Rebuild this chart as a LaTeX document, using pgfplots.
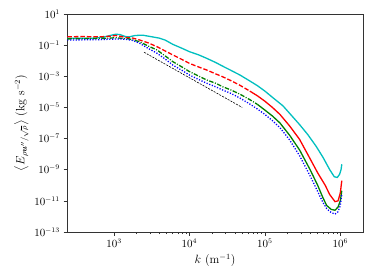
\documentclass[border=0pt]{standalone}
\usepackage{amsmath}
\usepackage{pgfplots}
\pgfplotsset{compat=1.18}
\usepackage{pgfplotstable}
\definecolor{mplc}{rgb}{0,0.75,0.75}
\definecolor{mplr}{rgb}{1,0,0}
\definecolor{mplg}{rgb}{0,0.5,0}
\definecolor{mplb}{rgb}{0,0,1}

\pgfplotstableread{
lk lE
2.38 -0.56
2.5 -0.55
2.7 -0.56
2.85 -0.5
2.95 -0.38
3.02 -0.30
3.08 -0.32
3.15 -0.45
3.20 -0.47
3.28 -0.38
3.38 -0.36
3.45 -0.42
3.52 -0.48
3.60 -0.55
3.68 -0.68
3.78 -0.95
3.90 -1.20
4.00 -1.42
4.12 -1.62
4.23 -1.85
4.35 -2.12
4.44 -2.35
4.55 -2.62
4.67 -2.92
4.80 -3.30
4.90 -3.60
5.00 -3.95
5.10 -4.35
5.24 -4.90
5.35 -5.50
5.46 -6.10
5.57 -6.75
5.68 -7.50
5.77 -8.20
5.86 -9.00
5.92 -9.45
5.96 -9.50
5.99 -9.30
6.01 -9.00
6.02 -8.65
}\cdata

\pgfplotstableread{
lk lE
2.38 -0.46
2.6 -0.45
2.8 -0.47
2.95 -0.43
3.02 -0.38
3.08 -0.43
3.15 -0.50
3.25 -0.55
3.34 -0.67
3.45 -0.85
3.57 -1.10
3.68 -1.38
3.78 -1.63
3.90 -1.92
4.00 -2.17
4.12 -2.40
4.23 -2.60
4.35 -2.85
4.44 -3.03
4.55 -3.28
4.67 -3.58
4.80 -3.95
4.90 -4.25
5.00 -4.60
5.10 -5.00
5.20 -5.45
5.33 -6.20
5.46 -7.05
5.60 -8.30
5.70 -9.20
5.80 -10.00
5.86 -10.60
5.93 -11.05
5.97 -11.00
6.00 -10.50
6.02 -9.70
}\rdata

\pgfplotstableread{
lk lE
2.38 -0.60
2.6 -0.58
2.8 -0.57
2.95 -0.55
3.02 -0.52
3.10 -0.56
3.20 -0.60
3.34 -0.78
3.45 -1.05
3.57 -1.31
3.68 -1.70
3.78 -2.06
3.90 -2.40
4.00 -2.70
4.12 -2.98
4.23 -3.24
4.35 -3.45
4.44 -3.67
4.55 -3.88
4.67 -4.15
4.80 -4.50
4.90 -4.80
5.00 -5.17
5.10 -5.55
5.20 -6.00
5.33 -6.80
5.46 -7.73
5.60 -9.00
5.70 -10.00
5.77 -10.80
5.82 -11.30
5.88 -11.55
5.93 -11.60
5.97 -11.40
6.00 -11.00
6.02 -10.35
}\gdata

\pgfplotstableread{
lk lE
2.38 -0.67
2.6 -0.66
2.8 -0.65
2.95 -0.62
3.05 -0.60
3.15 -0.62
3.25 -0.70
3.34 -0.88
3.45 -1.20
3.57 -1.52
3.68 -1.90
3.78 -2.28
3.90 -2.62
4.00 -2.92
4.12 -3.20
4.23 -3.45
4.35 -3.68
4.44 -3.88
4.55 -4.10
4.67 -4.40
4.80 -4.78
4.90 -5.10
5.00 -5.45
5.10 -5.85
5.20 -6.30
5.33 -7.10
5.46 -8.10
5.60 -9.40
5.70 -10.40
5.77 -11.10
5.82 -11.50
5.88 -11.75
5.93 -11.85
5.97 -11.70
6.00 -11.30
6.02 -10.60
}\bdata

\begin{document}
\begin{tikzpicture}
\path[use as bounding box] (-67pt,-48pt) rectangle (307pt,232pt);
\begin{axis}[
  at={(0,0)}, anchor=south west,
  scale only axis, width=296pt, height=218pt,
  xmode=log, ymode=log,
  xmin=238, xmax=2.0e6, ymin=1e-13, ymax=10,
  xtick={1e3,1e4,1e5,1e6},
  ytick={1e-13,1e-11,1e-9,1e-7,1e-5,1e-3,1e-1,1e1},
  yminorticks=false,
  tick align=outside, tick pos=left,
  major tick length=3.5pt, minor tick length=2pt,
  axis line style={black!80, line width=0.6pt},
  tick style={black!80, line width=0.5pt},
  tick label style={font=\fontsize{10.6}{12}\selectfont},
  label style={font=\fontsize{12}{14}\selectfont},
  xlabel={$k$ $(\mathrm{m}^{-1})$},
  ylabel={$\left\langle E_{\rho\boldsymbol{u}''/\sqrt{\bar{\rho}}}\right\rangle$ $(\mathrm{kg\ s^{-2}})$},
  ylabel style={at={(axis description cs:-0.154,0.5)}, anchor=center, inner sep=0pt},
]
\addplot[mplc, line width=1.3pt] table[x expr={10^\thisrow{lk}}, y expr={10^\thisrow{lE}}] {\cdata};
\addplot[mplr, line width=1.3pt, dash pattern=on 4.5pt off 2pt, skip coords between index={22}{40}] table[x expr={10^\thisrow{lk}}, y expr={10^\thisrow{lE}}] {\rdata};
\addplot[mplr, line width=1.3pt, skip coords between index={0}{21}] table[x expr={10^\thisrow{lk}}, y expr={10^\thisrow{lE}}] {\rdata};
\addplot[mplg, line width=1.3pt, dash pattern=on 4.5pt off 1.5pt on 1pt off 1.5pt, skip coords between index={22}{40}] table[x expr={10^\thisrow{lk}}, y expr={10^\thisrow{lE}}] {\gdata};
\addplot[mplg, line width=1.3pt, skip coords between index={0}{21}] table[x expr={10^\thisrow{lk}}, y expr={10^\thisrow{lE}}] {\gdata};
\addplot[mplb, line width=1.3pt, dash pattern=on 1.2pt off 1.6pt] table[x expr={10^\thisrow{lk}}, y expr={10^\thisrow{lE}}] {\bdata};
\addplot[black, line width=0.6pt, dash pattern=on 2pt off 1.2pt] coordinates {(2500,0.035) (50000,1.0e-5)};
\end{axis}
\end{tikzpicture}
\end{document}
